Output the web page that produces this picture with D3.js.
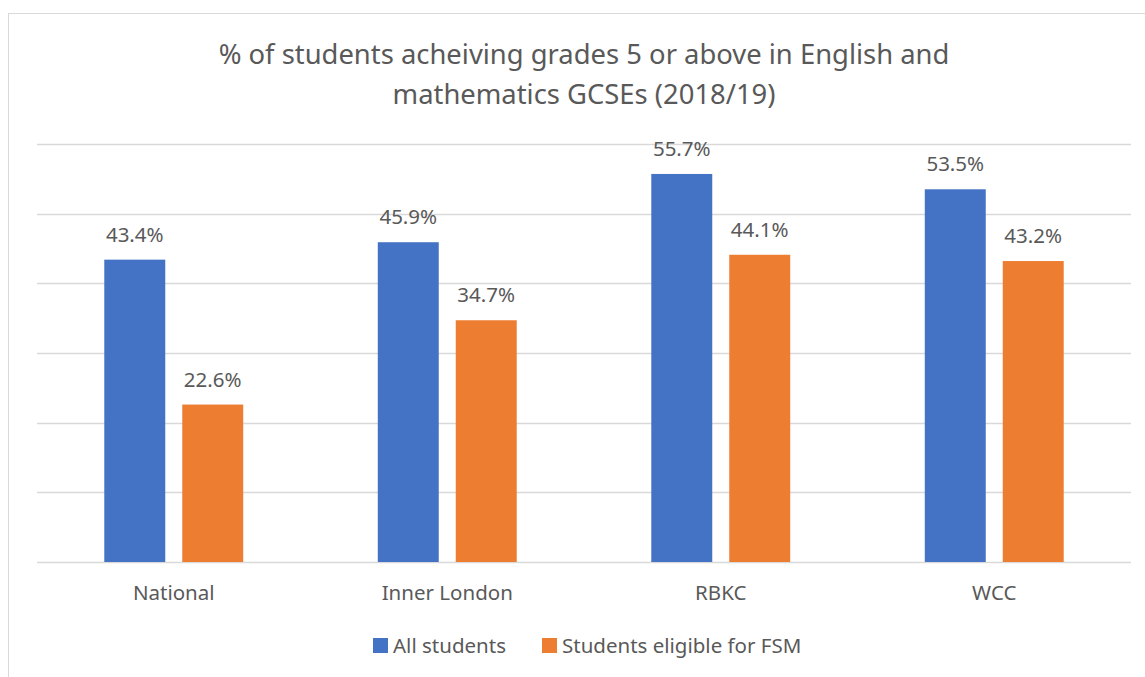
<!DOCTYPE html>
<html>
<head>
<meta charset="utf-8">
<script src="https://cdnjs.cloudflare.com/ajax/libs/d3/7.8.5/d3.min.js"></script>
<style>
  body { margin: 0; background: #fff; }
  text { font-family: "Noto Sans", "Open Sans", sans-serif; fill: #595959; }
</style>
</head>
<body>
<div id="chart"></div>
<script>
var categories = ['National', 'Inner London', 'RBKC', 'WCC'];
var series = ['All students', 'Students eligible for FSM'];
var all_students = [43.4, 45.9, 55.7, 53.5];
var fsm_students = [22.6, 34.7, 44.1, 43.2];
var y_ticks = [0, 10, 20, 30, 40, 50, 60];
var title_lines = ['% of students acheiving grades 5 or above in English and',
                   'mathematics GCSEs (2018/19)'];

var colors = {'All students': '#4472c4', 'Students eligible for FSM': '#ed7d31'};

var width = 1145, height = 677;
var margin = {top: 144, right: 14, bottom: 115, left: 37};

var svg = d3.select('#chart').append('svg')
    .attr('width', width)
    .attr('height', height);

// chart frame, cut off on the right and bottom like the original
svg.append('rect')
    .attr('x', 8.5)
    .attr('y', 13.5)
    .attr('width', 1200)
    .attr('height', 700)
    .attr('fill', 'none')
    .attr('stroke', '#d9d9d9')
    .attr('stroke-width', 1);

var data = categories.map(function(c, i) {
  return {cat: c, values: [
    {key: series[0], value: all_students[i]},
    {key: series[1], value: fsm_students[i]}
  ]};
});

var x0 = d3.scaleBand()
    .domain(categories)
    .range([margin.left, width - margin.right])
    .paddingInner(0.492)
    .paddingOuter(0.246);
var x1 = d3.scaleBand()
    .domain(series)
    .range([0, x0.bandwidth()])
    .paddingInner(0.218);
var y = d3.scaleLinear()
    .domain([0, 60])
    .range([height - margin.bottom, margin.top]);

// gridlines
svg.append('g')
    .selectAll('line')
    .data(y_ticks)
    .enter().append('line')
    .attr('x1', margin.left)
    .attr('x2', width - margin.right)
    .attr('y1', function(d) { return Math.round(y(d)) + 0.5; })
    .attr('y2', function(d) { return Math.round(y(d)) + 0.5; })
    .attr('stroke', '#d9d9d9')
    .attr('stroke-width', 1.3);

var groups = svg.selectAll('.group')
    .data(data)
    .enter().append('g')
    .attr('class', 'group')
    .attr('transform', function(d) { return 'translate(' + x0(d.cat) + ',0)'; });

groups.selectAll('rect')
    .data(function(d) { return d.values; })
    .enter().append('rect')
    .attr('x', function(d) { return x1(d.key); })
    .attr('width', x1.bandwidth())
    .attr('y', function(d) { return y(d.value); })
    .attr('height', function(d) { return y(0) - y(d.value); })
    .attr('fill', function(d) { return colors[d.key]; });

groups.selectAll('.val')
    .data(function(d) { return d.values; })
    .enter().append('text')
    .attr('class', 'val')
    .attr('x', function(d) { return x1(d.key) + x1.bandwidth() / 2; })
    .attr('y', function(d) { return y(d.value) - 18; })
    .attr('text-anchor', 'middle')
    .style('font-size', '20.5px')
    .text(function(d) { return d.value.toFixed(1) + '%'; });

// category labels
svg.append('g')
    .selectAll('text')
    .data(categories)
    .enter().append('text')
    .attr('x', function(d) { return x0(d) + x0.bandwidth() / 2; })
    .attr('y', 600)
    .attr('text-anchor', 'middle')
    .style('font-size', '20.5px')
    .text(function(d) { return d; });

// title
svg.append('g')
    .selectAll('text')
    .data(title_lines)
    .enter().append('text')
    .attr('x', 584)
    .attr('y', function(d, i) { return 64 + i * 40; })
    .attr('text-anchor', 'middle')
    .style('font-size', '27.4px')
    .text(function(d) { return d; });

// legend
var legend_x = [373, 542];
var legend = svg.append('g');
series.forEach(function(s, i) {
  legend.append('rect')
    .attr('x', legend_x[i])
    .attr('y', 638)
    .attr('width', 15)
    .attr('height', 15)
    .attr('fill', colors[s]);
  legend.append('text')
    .attr('x', legend_x[i] + 20)
    .attr('y', 653)
    .style('font-size', '20.5px')
    .text(s);
});
</script>
</body>
</html>
